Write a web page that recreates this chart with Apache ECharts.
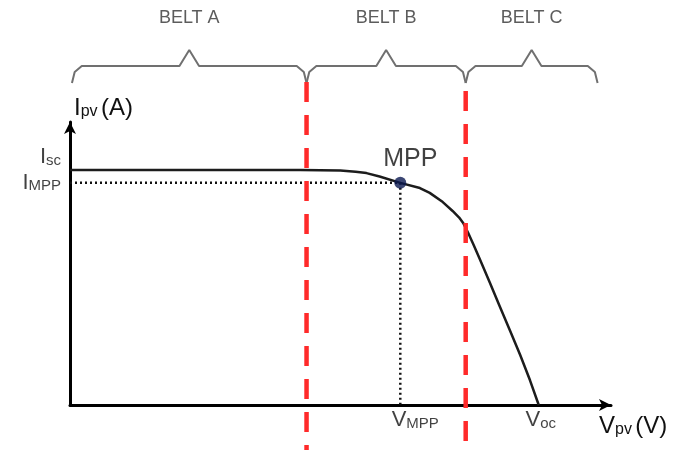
<!DOCTYPE html>
<html><head><meta charset="utf-8">
<script src="https://cdn.jsdelivr.net/npm/echarts@6/dist/echarts.min.js"></script>
<style>html,body{margin:0;padding:0;background:#fff}#c{width:677px;height:450px}</style>
</head><body><div id="c"></div>
<script>
// ---- data (normalised V / I units) ----
const ivCurve = [[0,81.9],[21.1,81.9],[24.8,81.7],[26.2,81.3],[27.2,80.8],[28.4,79.6],[30.3,77.4],[32.1,75.6],[33.0,73.9],[34.2,70.7],[35.1,67.6],[35.7,65.3],[36.1,63.2],[36.5,60.2],[37.0,56.0],[37.6,50.8],[38.5,42.8],[39.4,34.6],[40.4,25.6],[41.3,17.4],[42.2,8.6],[43.0,0]];
const Isc = 81.9, Impp = 77.4, Vmpp = 30.3, Voc = 43.0;
const beltNames = ['BELT A','BELT B','BELT C'];
const beltEdges = [0.18, 21.7, 36.3, 48.4];
const boundaryLines = [21.7, 36.3];
const boundaryTop = [112.5, 109.4];

const FONT = 'Liberation Sans';
const TXT = '#111';
const richMain = {fontSize:22, fontFamily:FONT, color:TXT, verticalAlign:'bottom'};
const richSub = {fontSize:15, fontFamily:FONT, color:TXT, verticalAlign:'bottom'};
const richMainL = {fontSize:24, fontFamily:FONT, color:TXT, verticalAlign:'bottom'};
const richSubL = {fontSize:16, fontFamily:FONT, color:TXT, verticalAlign:'bottom'};

function brace(x0, x1){
  const yb = 112.2, yf = 118.1, yp = 123.7, m = (x0 + x1) / 2;
  return [[x0,yb],[x0+0.25,yb+3.8],[x0+0.9,yf],[m-0.9,yf],[m,yp],[m+0.9,yf],[x1-0.9,yf],[x1-0.25,yb+3.8],[x1,yb]];
}
const series = [];
for (let i = 0; i < beltNames.length; i++) {
  series.push({type:'line', data: brace(beltEdges[i], beltEdges[i+1]), clip:false, symbol:'none', silent:true,
    lineStyle:{color:'#707070', width:2}, z:2});
}
series.push({type:'scatter', symbolSize:0, clip:false, silent:true,
  data: beltNames.map((n,i)=>({name:n, value:[(beltEdges[i]+beltEdges[i+1])/2, 134.8]})),
  label:{show:true, position:'inside', formatter:'{b}', color:'#333', fontFamily:FONT, fontSize:18}});
boundaryLines.forEach((x,i)=>{
  series.push({type:'line', data:[[x,boundaryTop[i]],[x,-15.7]], clip:false, symbol:'none', silent:true,
    lineStyle:{color:'#ff2a2a', width:4.5, type:[20,13]}, z:5});
});
series.push({type:'line', data: ivCurve, symbol:'none', smooth:false, clip:false,
  lineStyle:{color:'#1c1c1c', width:2.5, join:'round'}, z:4});
series.push({type:'line', data:[[0,Impp],[Vmpp,Impp]], symbol:'none', lineStyle:{color:'#111', width:2.5, type:[2,3]}, z:3});
series.push({type:'line', data:[[Vmpp,Impp],[Vmpp,0]], symbol:'none', lineStyle:{color:'#111', width:2.5, type:[2,3]}, z:3});
series.push({type:'scatter', data:[[Vmpp,Impp]], symbolSize:12, itemStyle:{color:'#0a1850'}, z:6,
  label:{show:true, position:'top', offset:[10,0], formatter:'MPP', color:TXT, fontFamily:FONT, fontSize:25}});
series.push({type:'scatter', symbolSize:0, clip:false, silent:true, z:7,
  label:{show:true, rich:{m:richMain, s:richSub}},
  data:[
    {value:[0,Isc], label:{position:'left', distance:9, offset:[0,-13], formatter:'{m|I}{s|sc}'}},
    {value:[0,Impp], label:{position:'left', distance:9, offset:[0,0], formatter:'{m|I}{s|MPP}'}},
    {value:[Vmpp,0], label:{position:'bottom', distance:4, offset:[15,0], formatter:'{m|V}{s|MPP}'}},
    {value:[Voc,0], label:{position:'bottom', distance:4, offset:[2,0], formatter:'{m|V}{s|oc}'}}
  ]});

const chart = echarts.init(document.getElementById('c'), null, {renderer:'canvas'});
chart.setOption({
  animation:false,
  grid:{left:70, right:66, top:122, bottom:45},
  xAxis:{type:'value', min:0, max:49.63,
    name:'{m|V}{s|pv} {m|(V)}', nameLocation:'end', nameGap:-12,
    nameTextStyle:{align:'left', verticalAlign:'top', padding:[9,0,0,0], rich:{m:richMainL, s:richSubL}},
    axisLine:{lineStyle:{color:'#000', width:3}, symbol:['none','arrow'], symbolSize:[9,12]},
    axisTick:{show:false}, splitLine:{show:false}, axisLabel:{show:false}
  },
  yAxis:{type:'value', min:0, max:98.6,
    name:'{m|I}{s|pv} {m|(A)}', nameLocation:'end', nameGap:2,
    nameTextStyle:{align:'left', verticalAlign:'bottom', padding:[0,0,0,4], rich:{m:richMainL, s:richSubL}},
    axisLine:{lineStyle:{color:'#000', width:3}, symbol:['none','arrow'], symbolSize:[9,12]},
    axisTick:{show:false}, splitLine:{show:false}, axisLabel:{show:false}
  },
  series: series
});
</script></body></html>
